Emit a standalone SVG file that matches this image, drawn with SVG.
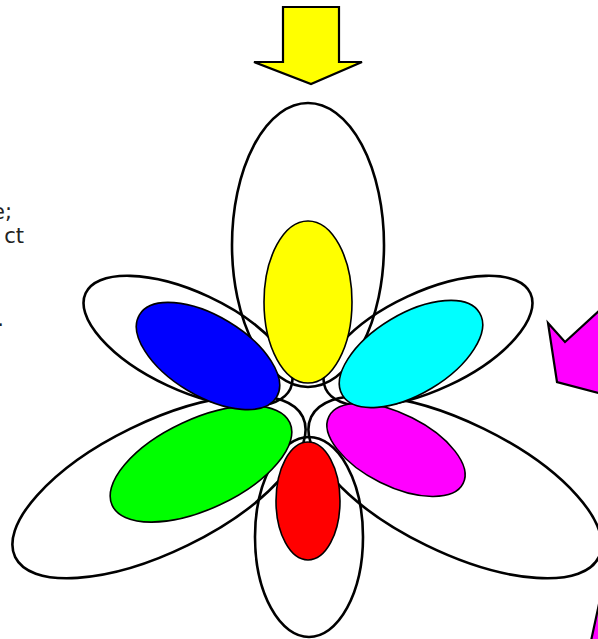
<svg xmlns="http://www.w3.org/2000/svg" width="598" height="639" viewBox="0 0 598 639">
<style>
.outer{fill:none;stroke:#000;stroke-width:2.6}
.inner{stroke:#000;stroke-width:1.6}
.arrow{stroke:#000;stroke-width:2.2;stroke-linejoin:miter}
.txt{font-family:"DejaVu Sans",Verdana,sans-serif;font-size:21px;fill:#222}
</style>
<rect width="598" height="639" fill="#fff"/>
<g id="text">
<text class="txt" x="12" y="219" text-anchor="end">e;</text>
<text class="txt" x="24" y="243" text-anchor="end">ct</text>
<text class="txt" x="4" y="326" text-anchor="end">.</text>
</g>
<g id="arrows">
<polygon id="yellow-arrow" class="arrow" fill="#ffff00" points="283,7 339,7 339,62 362,62 311,84 254,62 283,62"/>
<polygon id="magenta-arrow" class="arrow" fill="#ff00ff" points="602,308 565,342 548,323 557,382 602,394"/>
<polygon id="magenta-corner" class="arrow" fill="#ff00ff" points="599,604 591,641 602,641 602,604"/>
</g>
<g id="outer-petals">
<ellipse id="outer-top" class="outer" cx="308" cy="245" rx="76" ry="142"/>
<ellipse id="outer-upper-left" class="outer" cx="188" cy="341" rx="113" ry="49" transform="rotate(25 188 341)"/>
<ellipse id="outer-upper-right" class="outer" cx="428" cy="341" rx="113" ry="49" transform="rotate(-25 428 341)"/>
<ellipse id="outer-lower-left" class="outer" cx="159" cy="487" rx="160" ry="65" transform="rotate(-26 159 487)"/>
<ellipse id="outer-lower-right" class="outer" cx="455" cy="487" rx="160" ry="65" transform="rotate(26 455 487)"/>
<ellipse id="outer-bottom" class="outer" cx="309" cy="537" rx="54" ry="100"/>
</g>
<g id="inner-petals">
<ellipse id="green" class="inner" fill="#00ff00" cx="201" cy="464" rx="98" ry="45" transform="rotate(-25 201 464)"/>
<ellipse id="magenta" class="inner" fill="#ff00ff" cx="396" cy="450" rx="75" ry="36" transform="rotate(26.5 396 450)"/>
<ellipse id="red" class="inner" fill="#ff0000" cx="308" cy="501" rx="32" ry="59"/>
<ellipse id="blue" class="inner" fill="#0000ff" cx="208" cy="356" rx="80" ry="40" transform="rotate(31 208 356)"/>
<ellipse id="cyan" class="inner" fill="#00ffff" cx="411" cy="354" rx="80" ry="40" transform="rotate(-31 411 354)"/>
<ellipse id="yellow" class="inner" fill="#ffff00" cx="308" cy="302" rx="44" ry="81"/>
</g>
</svg>
